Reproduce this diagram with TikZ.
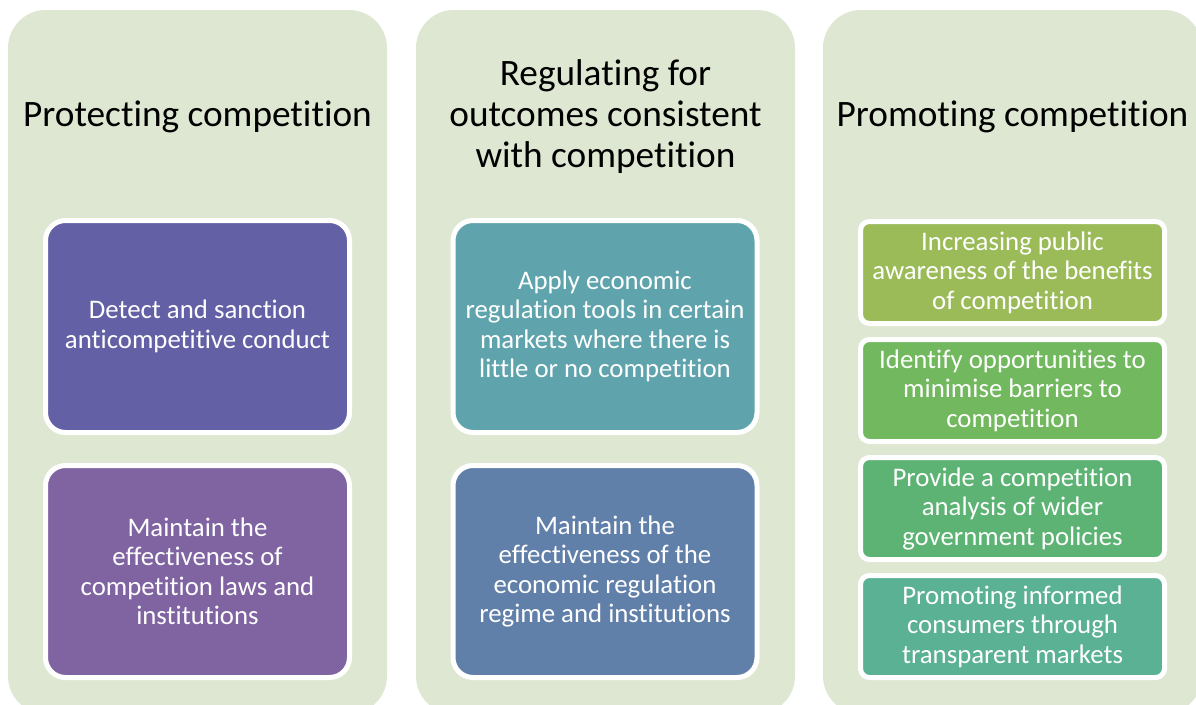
\documentclass[tikz,border=0pt]{standalone}
\usepackage{fontspec}
\setmainfont{Carlito}[Ligatures=NoCommon]
\definecolor{bgc}{RGB}{222,231,209}
\definecolor{cA}{RGB}{99,96,165}
\definecolor{cB}{RGB}{128,100,162}
\definecolor{cC}{RGB}{95,164,173}
\definecolor{cD}{RGB}{97,128,169}
\definecolor{cE}{RGB}{155,187,89}
\definecolor{cF}{RGB}{114,184,94}
\definecolor{cG}{RGB}{93,179,116}
\definecolor{cH}{RGB}{91,177,147}
\begin{document}
\begin{tikzpicture}[x=1pt,y=-1pt,
  panel/.style={fill=bgc, rounded corners=38pt, minimum width=379pt, minimum height=704pt, inner sep=0pt},
  bigbox/.style={draw=white, line width=5pt, rounded corners=20pt, minimum width=304pt, minimum height=212pt, inner sep=0pt, align=center, text=white, font=\fontsize{26.8}{29.5}\selectfont},
  smallbox/.style={bigbox, rounded corners=9pt, minimum height=102pt},
  title/.style={align=center, font=\fontsize{37.3}{41}\selectfont, inner sep=0pt}]
\useasboundingbox (0,0) rectangle (1196,704);
\clip (0,0) rectangle (1196,704);
\node[panel] (p1) at (197.5,362) {};
\node[panel] (p2) at (605.5,362) {};
\node[panel] (p3) at (1012.5,362) {};
\node[title] (t1) at (197.5,117) {Protecting competition};
\node[title] (t2) at (605.5,117) {Regulating for\\outcomes consistent\\with competition};
\node[title] (t3) at (1012.5,117) {Promoting competition};
\node[bigbox, fill=cA] (a1) at (197.5,326.5) {Detect and sanction\\anticompetitive conduct};
\node[bigbox, fill=cB] (a2) at (197.5,571.5) {Maintain the\\effectiveness of\\competition laws and\\institutions};
\node[bigbox, fill=cC] (b1) at (605,326.5) {Apply economic\\regulation tools in certain\\markets where there is\\little or no competition};
\node[bigbox, fill=cD] (b2) at (605,571.5) {Maintain the\\effectiveness of the\\economic regulation\\regime and institutions};
\node[smallbox, fill=cE] (c1) at (1012.5,272.5) {Increasing public\\awareness of the benefits\\of competition};
\node[smallbox, fill=cF] (c2) at (1012.5,390.5) {Identify opportunities to\\minimise barriers to\\competition};
\node[smallbox, fill=cG] (c3) at (1012.5,508.5) {Provide a competition\\analysis of wider\\government policies};
\node[smallbox, fill=cH] (c4) at (1012.5,626.5) {Promoting informed\\consumers through\\transparent markets};
\end{tikzpicture}
\end{document}
